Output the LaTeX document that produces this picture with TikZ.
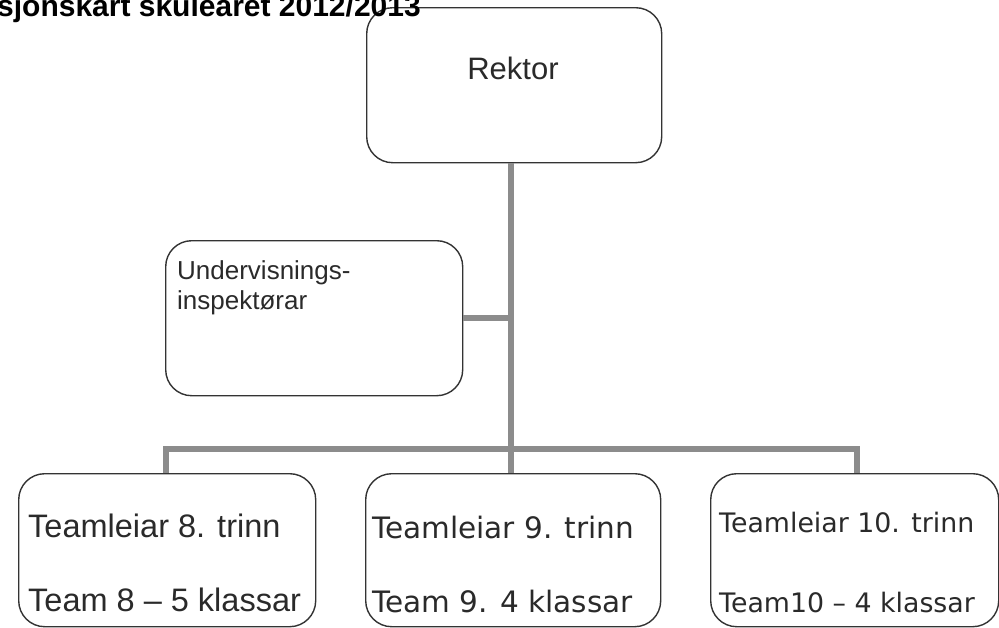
\documentclass[tikz,border=0pt]{standalone}
\usepackage{fontspec}
\setmainfont{Liberation Sans}
\newfontfamily\verd{DejaVu Sans}
\definecolor{txt}{HTML}{2A2A2A}
\definecolor{conn}{HTML}{8C8C8C}
\begin{document}
\begin{tikzpicture}[x=1pt,y=-1pt,
  box/.style={draw=black!80, line width=1.4pt, rounded corners=26pt, anchor=north west, inner sep=0pt},
  lbl/.style={anchor=base west, inner sep=0pt, text=txt},
  link/.style={draw=conn, line width=6pt}]
\useasboundingbox (0,0) rectangle (999,627);
% boxes
\node[box, minimum width=295pt, minimum height=155pt] (rektor) at (366,7) {};
\node[box, minimum width=297pt, minimum height=155pt] (insp) at (165,240) {};
\node[box, minimum width=297pt, minimum height=153pt] (t8) at (18,473) {};
\node[box, minimum width=295pt, minimum height=153pt] (t9) at (365,473) {};
\node[box, minimum width=288pt, minimum height=153pt] (t10) at (710,473) {};
% title (cut off at top, as in the source)
\node[lbl, text=black, font=\bfseries\fontsize{30}{36}\selectfont] (title) at (-3,16) {sjonskart skule\aa ret 2012/2013};
% texts
\node[anchor=base, inner sep=0pt, text=txt, font=\fontsize{31}{37}\selectfont] (rektortxt) at (513,79) {Rektor};
\node[lbl, font=\fontsize{26}{31}\selectfont] (insp1) at (177,279) {Undervisnings-};
\node[lbl, font=\fontsize{26}{31}\selectfont] (insp2) at (177,309) {inspektørar};
\node[lbl, font=\fontsize{32.5}{38}\selectfont] (t8a) at (28,537) {Teamleiar 8. trinn};
\node[lbl, font=\fontsize{32.5}{38}\selectfont] (t8b) at (28,611) {Team 8 – 5 klassar};
\node[lbl, font=\verd\fontsize{29.5}{35}\selectfont] (t9a) at (372,538) {Teamleiar 9. trinn};
\node[lbl, font=\verd\fontsize{29.5}{35}\selectfont] (t9b) at (372,612) {Team 9. 4 klassar};
\node[lbl, font=\verd\fontsize{26.8}{32}\selectfont] (t10a) at (719,532) {Teamleiar 10. trinn};
\node[lbl, font=\verd\fontsize{26.8}{32}\selectfont] (t10b) at (719,612) {Team10 – 4 klassar};
% connectors
\coordinate (bus) at (511,449);
\coordinate (jn) at (511,318);
\draw[link] (rektor.south -| bus) -- (bus);
\draw[link] (insp.east |- jn) -- (jn);
\draw[link] (t8.north -| 166,0) |- (bus) -| (t10.north -| 857,0);
\draw[link] (bus) -- (t9.north -| bus);
\end{tikzpicture}
\end{document}
